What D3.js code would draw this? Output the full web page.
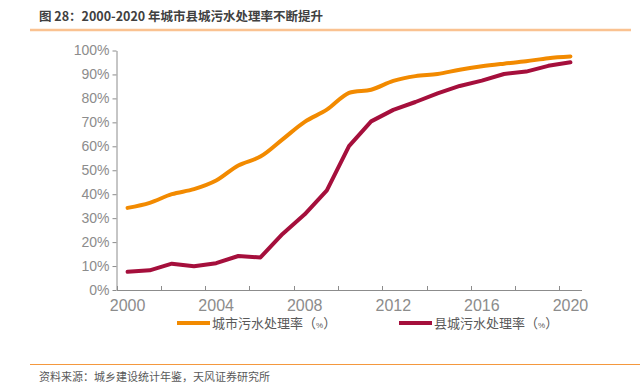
<!DOCTYPE html>
<html>
<head>
<meta charset="utf-8">
<script src="https://cdn.jsdelivr.net/npm/d3@7"></script>
<style>
  html, body { margin: 0; padding: 0; background: #fff; }
  svg { display: block; }
</style>
</head>
<body>
<svg id="chart" width="640" height="390"></svg>
<script>
const years = [2000,2001,2002,2003,2004,2005,2006,2007,2008,2009,2010,2011,2012,2013,2014,2015,2016,2017,2018,2019,2020];
const urbanRate = [34.3,36.4,40.0,42.1,45.7,52.0,55.7,62.9,70.2,75.3,82.3,83.6,87.3,89.3,90.2,92.0,93.4,94.5,95.5,96.8,97.5];
const countyRate = [7.6,8.2,11.0,9.9,11.2,14.2,13.6,23.4,31.6,41.6,60.1,70.4,75.2,78.5,82.1,85.2,87.4,90.2,91.2,93.6,95.1];
const seriesNames = ["城市污水处理率（", "县城污水处理率（"];
const yTicks = [0,10,20,30,40,50,60,70,80,90,100];
const xLabelYears = [2000,2004,2008,2012,2016,2020];
const titleText = "图 28：2000-2020 年城市县城污水处理率不断提升";
const sourceText = "资料来源：城乡建设统计年鉴，天风证券研究所";

const svg = d3.select("#chart");
const colors = ["#F28A00", "#A50F3C"];
const narrow = "'Liberation Sans Narrow','Arial Narrow',sans-serif";
const cjk = "'Noto Sans CJK SC','Liberation Sans Narrow',sans-serif";

// header
svg.append("text").attr("x", 39).attr("y", 21)
  .attr("font-family", "'Liberation Sans Narrow','Noto Sans CJK SC',sans-serif")
  .attr("font-weight", "bold").attr("font-size", 12.5).attr("fill", "#404040")
  .text(titleText);
svg.append("line").attr("x1", 30).attr("x2", 631).attr("y1", 30).attr("y2", 30)
  .attr("stroke", "#FAC291").attr("stroke-width", 2.5);

// footer
svg.append("line").attr("x1", 30).attr("x2", 640).attr("y1", 364.5).attr("y2", 364.5)
  .attr("stroke", "#F4983E").attr("stroke-width", 1.2);
svg.append("text").attr("x", 39).attr("y", 381)
  .attr("font-family", cjk).attr("font-size", 11).attr("fill", "#595959")
  .text(sourceText);

// scales
const x = d3.scaleBand().domain(years).range([116.5, 581.5]).padding(0);
const y = d3.scaleLinear().domain([0, 100]).range([290, 50.5]);
const cx = d => x(d) + x.bandwidth() / 2;

// y axis
const yAxis = svg.append("g").attr("transform", "translate(116.5,0)")
  .call(d3.axisLeft(y).tickValues(yTicks).tickFormat(d => d + "%").tickSize(4).tickSizeOuter(0));
yAxis.select(".domain").attr("stroke", "#8C8C8C").attr("stroke-width", 1);
yAxis.selectAll(".tick line").attr("stroke", "#8C8C8C");
yAxis.selectAll(".tick text").attr("font-family", narrow).attr("font-size", 14)
  .attr("fill", "#8C8C8C").attr("x", -7);

// x axis
const xAxis = svg.append("g").attr("transform", "translate(0,290)")
  .call(d3.axisBottom(x).tickValues(xLabelYears).tickSize(0).tickSizeOuter(0));
xAxis.select(".domain").attr("stroke", "#8C8C8C").attr("stroke-width", 1);
xAxis.selectAll(".tick text").attr("font-family", narrow).attr("font-size", 16)
  .attr("fill", "#8C8C8C").attr("dy", "0.71em").attr("y", 10);
// tick marks at category boundaries every 2 categories (pointing up)
const tickYears = years.filter((d, i) => i % 2 === 0);
svg.append("g").selectAll("line").data(tickYears).join("line")
  .attr("x1", d => Math.round(x(d)) + 0.5).attr("x2", d => Math.round(x(d)) + 0.5)
  .attr("y1", 286).attr("y2", 290)
  .attr("stroke", "#8C8C8C").attr("stroke-width", 1);

// lines
const lineSmooth = d3.line().x((d, i) => cx(years[i])).y(d => y(d)).curve(d3.curveCatmullRom.alpha(0.5));
const lineStraight = d3.line().x((d, i) => cx(years[i])).y(d => y(d));
svg.append("path").datum(urbanRate).attr("d", lineSmooth)
  .attr("fill", "none").attr("stroke", colors[0]).attr("stroke-width", 4)
  .attr("stroke-linecap", "round").attr("stroke-linejoin", "round");
svg.append("path").datum(countyRate).attr("d", lineStraight)
  .attr("fill", "none").attr("stroke", colors[1]).attr("stroke-width", 4)
  .attr("stroke-linecap", "round").attr("stroke-linejoin", "round");

// legend
const legendX = [177, 399];
seriesNames.forEach((name, i) => {
  const g = svg.append("g").attr("transform", `translate(${legendX[i]},323)`);
  g.append("line").attr("x1", 0).attr("x2", 33).attr("y1", 0).attr("y2", 0)
    .attr("stroke", colors[i]).attr("stroke-width", 4);
  const t = g.append("text").attr("x", 35).attr("y", 0).attr("dy", "0.36em")
    .attr("font-family", cjk).attr("font-size", 13).attr("fill", "#595959");
  t.append("tspan").text(name);
  t.append("tspan").attr("font-size", 8).attr("font-family", narrow).text("%");
  t.append("tspan").text("）");
});
</script>
</body>
</html>
